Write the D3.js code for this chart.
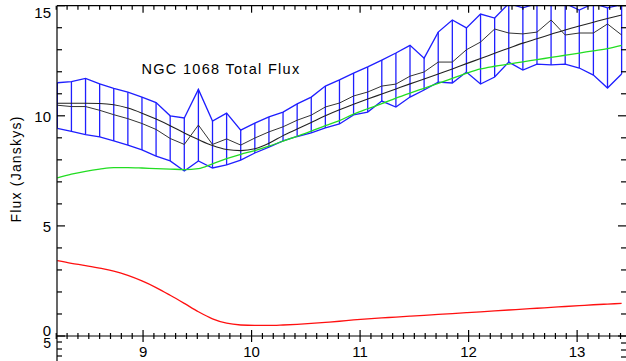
<!DOCTYPE html>
<html>
<head>
<meta charset="utf-8">
<script src="https://cdn.jsdelivr.net/npm/d3@7"></script>
<style>
  body { margin: 0; background: #fff; }
  text { font-family: "Liberation Sans", Arial, sans-serif; fill: #000; }
</style>
</head>
<body>
<svg id="chart" width="626" height="361"></svg>
<script>
// wavelength grid (microns)
var wavelength = [8.21, 8.34, 8.47, 8.60, 8.73, 8.86, 8.99, 9.12, 9.25, 9.38, 9.51, 9.64, 9.77, 9.90,
  10.03, 10.16, 10.29, 10.42, 10.55, 10.68, 10.81, 10.94, 11.07, 11.20, 11.33, 11.46, 11.59, 11.72,
  11.85, 11.98, 12.11, 12.24, 12.37, 12.50, 12.63, 12.76, 12.89, 13.02, 13.15, 13.28, 13.41];

// measured total flux with its upper / lower error envelope
var flux = [10.48, 10.42, 10.42, 10.25, 10.05, 9.87, 9.65, 9.38, 8.97, 8.70, 9.58, 8.70, 8.95, 8.67,
  8.99, 9.27, 9.50, 9.80, 10.03, 10.40, 10.58, 10.90, 11.08, 11.35, 11.44, 11.80, 11.99, 12.44,
  12.44, 13.00, 13.35, 13.94, 13.76, 13.72, 13.80, 14.35, 13.67, 13.76, 13.76, 14.17, 13.67];
var fluxHi = [11.50, 11.55, 11.70, 11.45, 11.25, 11.07, 10.85, 10.60, 10.00, 9.90, 11.20, 9.76, 10.12, 9.35,
  9.67, 9.95, 10.17, 10.54, 10.85, 11.35, 11.63, 11.94, 12.22, 12.53, 12.85, 13.20, 12.62, 13.80,
  14.35, 13.99, 14.62, 14.44, 15.10, 14.90, 15.10, 15.00, 15.10, 14.80, 15.10, 14.90, 15.05];
var fluxLo = [9.43, 9.29, 9.15, 9.04, 8.86, 8.67, 8.45, 8.17, 7.95, 7.49, 7.95, 7.63, 7.77, 7.99,
  8.31, 8.58, 8.86, 9.06, 9.22, 9.45, 9.63, 10.04, 10.17, 10.67, 10.40, 10.85, 11.17, 11.53,
  11.49, 11.99, 11.44, 11.76, 12.44, 12.08, 12.35, 12.31, 12.35, 12.17, 11.85, 11.26, 11.90];

// model fit (black smooth), green and red components
var model = [10.57, 10.57, 10.57, 10.56, 10.50, 10.35, 10.12, 9.85, 9.55, 9.22, 8.92, 8.65, 8.47, 8.42,
  8.50, 8.75, 9.10, 9.40, 9.70, 10.00, 10.27, 10.52, 10.76, 10.99, 11.22, 11.45, 11.67, 11.90,
  12.13, 12.37, 12.60, 12.84, 13.07, 13.30, 13.50, 13.70, 13.90, 14.08, 14.25, 14.42, 14.58];
var green = [7.18, 7.35, 7.48, 7.58, 7.65, 7.65, 7.63, 7.60, 7.58, 7.56, 7.60, 7.82, 8.05, 8.25,
  8.42, 8.62, 8.85, 9.07, 9.30, 9.55, 9.78, 10.08, 10.32, 10.55, 10.80, 11.03, 11.25, 11.47,
  11.70, 11.93, 12.13, 12.25, 12.35, 12.45, 12.55, 12.65, 12.75, 12.85, 12.95, 13.05, 13.20];
var red = [3.42, 3.30, 3.20, 3.08, 2.95, 2.75, 2.50, 2.20, 1.85, 1.48, 1.10, 0.78, 0.58, 0.50,
  0.48, 0.48, 0.50, 0.53, 0.57, 0.62, 0.67, 0.73, 0.78, 0.82, 0.86, 0.90, 0.94, 0.98,
  1.02, 1.06, 1.10, 1.14, 1.18, 1.22, 1.26, 1.30, 1.34, 1.38, 1.42, 1.45, 1.48];

var xMajor = [9, 10, 11, 12, 13];
var yMajor = [0, 5, 10, 15];
var title = "NGC 1068 Total Flux";
var yTitle = "Flux (Janskys)";

(function() {
  var svg = d3.select("#chart"),
    margin = {left: 57, right: 626.5, top: 5.7, bottom: 336};

  var x = d3.scaleLinear().domain([8.207, 13.455]).range([margin.left, margin.right]);
  var y = d3.scaleLinear().domain([0, 15]).range([margin.bottom, margin.top]);

  svg.append("defs").append("clipPath").attr("id", "plotclip")
    .append("rect").attr("x", margin.left).attr("y", margin.top)
    .attr("width", margin.right - margin.left).attr("height", margin.bottom - margin.top);

  var pts = wavelength.map(function(w, i) {
    return {w: w, f: flux[i], hi: fluxHi[i], lo: fluxLo[i], m: model[i], g: green[i], r: red[i]};
  });

  var plot = svg.append("g").attr("clip-path", "url(#plotclip)");

  function lineOf(acc) {
    return d3.line().x(function(d) { return x(d.w); }).y(function(d) { return y(acc(d)); });
  }

  // error envelope
  plot.append("path").datum(pts)
    .attr("fill", "none").attr("stroke", "#1f1fff").attr("stroke-width", 1.3)
    .attr("d", lineOf(function(d) { return d.hi; }));
  plot.append("path").datum(pts)
    .attr("fill", "none").attr("stroke", "#1f1fff").attr("stroke-width", 1.3)
    .attr("d", lineOf(function(d) { return d.lo; }));
  plot.selectAll("line.err").data(pts).enter().append("line")
    .attr("class", "err")
    .attr("x1", function(d) { return x(d.w); }).attr("x2", function(d) { return x(d.w); })
    .attr("y1", function(d) { return y(d.lo); }).attr("y2", function(d) { return y(d.hi); })
    .attr("stroke", "#1f1fff").attr("stroke-width", 1.3);

  plot.append("path").datum(pts)
    .attr("fill", "none").attr("stroke", "#22dd22").attr("stroke-width", 1.3)
    .attr("d", lineOf(function(d) { return d.g; }).curve(d3.curveMonotoneX));
  plot.append("path").datum(pts)
    .attr("fill", "none").attr("stroke", "#ff1010").attr("stroke-width", 1.3)
    .attr("d", lineOf(function(d) { return d.r; }).curve(d3.curveMonotoneX));
  plot.append("path").datum(pts)
    .attr("fill", "none").attr("stroke", "#222").attr("stroke-width", 1.1)
    .attr("d", lineOf(function(d) { return d.m; }).curve(d3.curveMonotoneX));
  plot.append("path").datum(pts)
    .attr("fill", "none").attr("stroke", "#333").attr("stroke-width", 1)
    .attr("d", lineOf(function(d) { return d.f; }));

  // axes, drawn as plain tick lines
  var axes = svg.append("g").attr("stroke", "#000").attr("stroke-width", 1.2);
  axes.append("line").attr("x1", margin.left).attr("x2", margin.right)
    .attr("y1", margin.bottom).attr("y2", margin.bottom);
  axes.append("line").attr("x1", margin.left).attr("x2", margin.right)
    .attr("y1", margin.top).attr("y2", margin.top);
  axes.append("line").attr("x1", margin.left).attr("x2", margin.left)
    .attr("y1", margin.top).attr("y2", 361);

  var xMinor = d3.range(82, 135).map(function(v) { return v / 10; });
  xMinor.forEach(function(v) {
    var major = xMajor.indexOf(v) >= 0;
    var len = major ? 6 : 3;
    axes.append("line").attr("x1", x(v)).attr("x2", x(v))
      .attr("y1", margin.bottom - len).attr("y2", margin.bottom + len);
    axes.append("line").attr("x1", x(v)).attr("x2", x(v))
      .attr("y1", margin.top).attr("y2", margin.top + (major ? 7 : 4));
  });

  d3.range(0, 16).forEach(function(v) {
    var len = yMajor.indexOf(v) >= 0 ? 8 : 5;
    axes.append("line").attr("x1", margin.left).attr("x2", margin.left + len)
      .attr("y1", y(v)).attr("y2", y(v));
    axes.append("line").attr("x1", 626).attr("x2", 626 - len)
      .attr("y1", y(v)).attr("y2", y(v));
  });
  // bits of the panel below
  [342, 349, 356].forEach(function(py) {
    axes.append("line").attr("x1", margin.left).attr("x2", margin.left + 5).attr("y1", py).attr("y2", py);
    axes.append("line").attr("x1", 626).attr("x2", 621).attr("y1", py + 1).attr("y2", py + 1);
  });

  svg.selectAll("text.xl").data(xMajor).enter().append("text")
    .attr("class", "xl")
    .attr("x", function(d) { return x(d); }).attr("y", 357)
    .attr("text-anchor", "middle").style("font-size", "15px")
    .text(function(d) { return d; });

  var yShift = {0: -5, 5: 1, 10: 1, 15: 7};
  svg.selectAll("text.yl").data(yMajor).enter().append("text")
    .attr("class", "yl")
    .attr("x", 51).attr("y", function(d) { return y(d) + 5 + yShift[d]; })
    .attr("text-anchor", "end").style("font-size", "15px")
    .text(function(d) { return d; });
  svg.append("text").attr("x", 51).attr("y", 348).attr("text-anchor", "end")
    .style("font-size", "14px").text("5");

  svg.append("text")
    .attr("x", 221).attr("y", 74).attr("text-anchor", "middle")
    .style("font-size", "14.5px").style("letter-spacing", "1.3px")
    .text(title);

  svg.append("text")
    .attr("transform", "translate(21,169) rotate(-90)")
    .attr("text-anchor", "middle").style("font-size", "14px")
    .style("letter-spacing", "1.2px")
    .text(yTitle);
})();
</script>
</body>
</html>
